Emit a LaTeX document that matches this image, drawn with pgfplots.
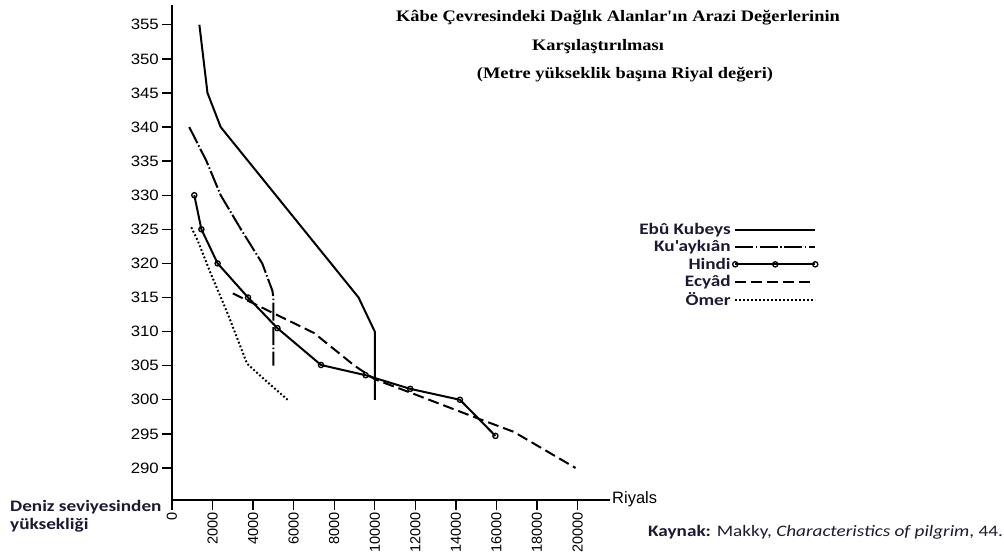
\documentclass[border=0pt]{standalone}
\usepackage{fontspec}
\usepackage{pgfplots}
\pgfplotsset{compat=1.18}
\setmainfont{Liberation Sans}
\newfontfamily\titlefont[FakeStretch=1.15]{Liberation Serif}
\newfontfamily\calfont[FakeStretch=1.2]{Carlito}
\newfontfamily\tickyfont[FakeStretch=1.12]{Liberation Sans}
\newfontfamily\tickxfont{Liberation Sans}
\definecolor{txt}{RGB}{30,25,50}
\begin{document}
\begin{tikzpicture}[x=1pt,y=1pt]
\path[use as bounding box] (0,0) rectangle (1004,556);
\begin{axis}[
  at={(172pt,56pt)}, anchor=south west,
  scale only axis, width=438pt, height=495pt,
  xmin=0, xmax=21600, ymin=285.3, ymax=357.9,
  axis x line=bottom, axis y line=left,
  axis line style={-, line width=1.7pt},
  xtick={0,2000,...,20000}, ytick={290,295,...,355},
  scaled x ticks=false,
  /pgf/number format/assume math mode=true,
  /pgf/number format/1000 sep={},
  xticklabel style={rotate=90, anchor=east, font=\tickxfont\fontsize{14.5}{14.5}\selectfont, inner sep=2pt},
  yticklabel style={font=\tickyfont\fontsize{15}{15}\selectfont, inner sep=3pt},
  tick align=outside, major tick length=10pt,
  tick style={line width=1.3pt, black},
  clip=false,
  legend plot pos=right,
  legend cell align=right,
  legend style={draw=none, fill=none, at={(1.475,0.563)}, anchor=north east,
    font=\calfont\bfseries\fontsize{16}{16}\selectfont, text=txt,
    row sep=0.5pt, inner sep=0pt},
  legend image code/.code={\draw[#1] plot coordinates {(0pt,0pt) (40pt,0pt) (80pt,0pt)};},
  every axis plot/.append style={line width=2pt, black},
]
\addplot[solid] coordinates {(1350,355) (1750,345) (2400,340) (9200,315) (10000,310) (10000,300)};
\addlegendentry{Ebû Kubeys}
\addplot[dash pattern=on 18pt off 2.5pt on 1.5pt off 2.5pt] coordinates {(850,340) (1700,335) (2400,330) (3400,325) (4450,320) (4950,316) (5000,315) (5000,305)};
\addlegendentry{Ku'aykıân}
\addplot[solid, mark=o, mark size=2.6pt, mark options={solid, fill=white, line width=1.3pt}] coordinates {(1100,330) (1450,325) (2250,320) (3750,315) (5200,310.5) (7350,305.1) (9550,303.6) (11750,301.6) (14200,300) (15950,294.7)};
\addlegendentry{Hindi}
\addplot[dash pattern=on 11pt off 5pt] coordinates {(3000,315.6) (5000,312.7) (7000,309.8) (9000,305) (10000,303) (11800,301) (15050,297.3) (16850,295.3) (19900,290)};
\addlegendentry{Ecyâd}
\addplot[dash pattern=on 1.8pt off 2.2pt] coordinates {(950,325.3) (1260,323.4) (1900,318.6) (2750,312.6) (3700,305.3) (4550,303) (5700,300)};
\addlegendentry{Ömer}
\end{axis}
\node[font=\titlefont\bfseries\fontsize{16}{18}\selectfont] at (618,538) {Kâbe Çevresindeki Dağlık Alanlar'ın Arazi Değerlerinin};
\node[font=\titlefont\bfseries\fontsize{16}{18}\selectfont] at (598,509) {Karşılaştırılması};
\node[font=\titlefont\bfseries\fontsize{16}{18}\selectfont] at (625,481) {(Metre yükseklik başına Riyal değeri)};
\node[anchor=west, inner sep=0pt, text=txt, font=\calfont\bfseries\fontsize{16}{16}\selectfont] at (10,49) {Deniz seviyesinden};
\node[anchor=west, inner sep=0pt, text=txt, font=\calfont\bfseries\fontsize{16}{16}\selectfont] at (10,31) {yüksekliği};
\node[anchor=west, inner sep=0pt, font=\tickxfont\fontsize{16.5}{16.5}\selectfont] at (612,57) {Riyals};
\node[anchor=west, inner sep=0pt, text=txt, font=\calfont\fontsize{16}{16}\selectfont] at (648,24) {\textbf{Kaynak:} Makky, \textit{Characteristics of pilgrim}, 44.};
\end{tikzpicture}
\end{document}
